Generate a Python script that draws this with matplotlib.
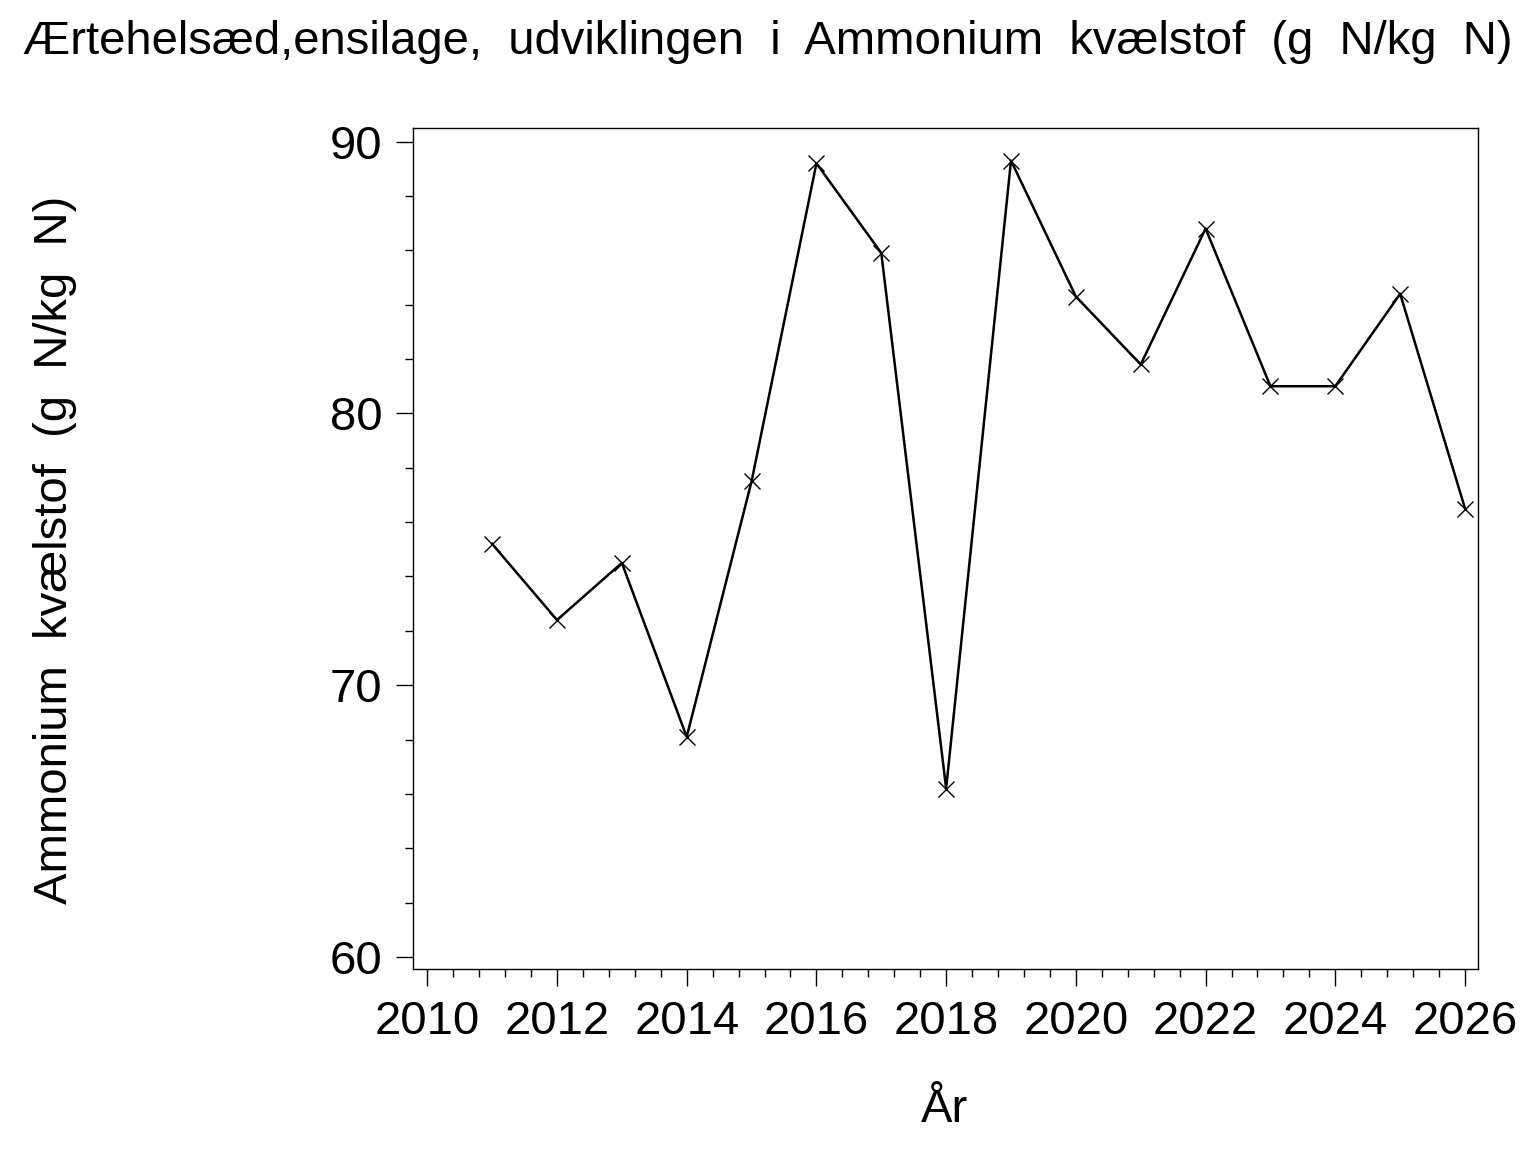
import matplotlib
matplotlib.use("Agg")
import matplotlib.pyplot as plt
from matplotlib.ticker import MultipleLocator

plt.rcParams['font.family'] = ['Liberation Sans', 'DejaVu Sans']

years = [2011, 2012, 2013, 2014, 2015, 2016, 2017, 2018,
         2019, 2020, 2021, 2022, 2023, 2024, 2025, 2026]
ammonium = [75.2, 72.4, 74.5, 68.1, 77.5, 89.2, 85.9, 66.2,
            89.3, 84.3, 81.8, 86.8, 81.0, 81.0, 84.4, 76.5]

fig = plt.figure(figsize=(15.36, 11.52), dpi=100)
ax = fig.add_axes([413 / 1536, 1 - 969 / 1152, 1065 / 1536, 841 / 1152])

ax.plot(years, ammonium, color='black', linewidth=1.8,
        marker='x', markersize=11, markeredgewidth=1.0)

ax.set_xlim(2009.78, 2026.2)
ax.set_ylim(59.56, 90.5)
ax.xaxis.set_major_locator(MultipleLocator(2))
ax.xaxis.set_minor_locator(MultipleLocator(0.4))
ax.yaxis.set_major_locator(MultipleLocator(10))
ax.yaxis.set_minor_locator(MultipleLocator(2))
ax.tick_params(which='major', length=12, width=1, labelsize=34, pad=10)
ax.tick_params(which='minor', length=6, width=1)
for s in ax.spines.values():
    s.set_linewidth(1)

fig.text(945 / 1536, 1 - 1110 / 1152, 'År', ha='center', va='center', fontsize=34)
fig.text(55 / 1536, 1 - 550 / 1152, 'Ammonium  kvælstof  (g  N/kg  N)',
         ha='center', va='center', rotation=90, fontsize=34)
fig.text(0.5, 1 - 42 / 1152, 'Ærtehelsæd,ensilage,  udviklingen  i  Ammonium  kvælstof  (g  N/kg  N)',
         ha='center', va='center', fontsize=34)

fig.savefig('out.png', dpi=100)
